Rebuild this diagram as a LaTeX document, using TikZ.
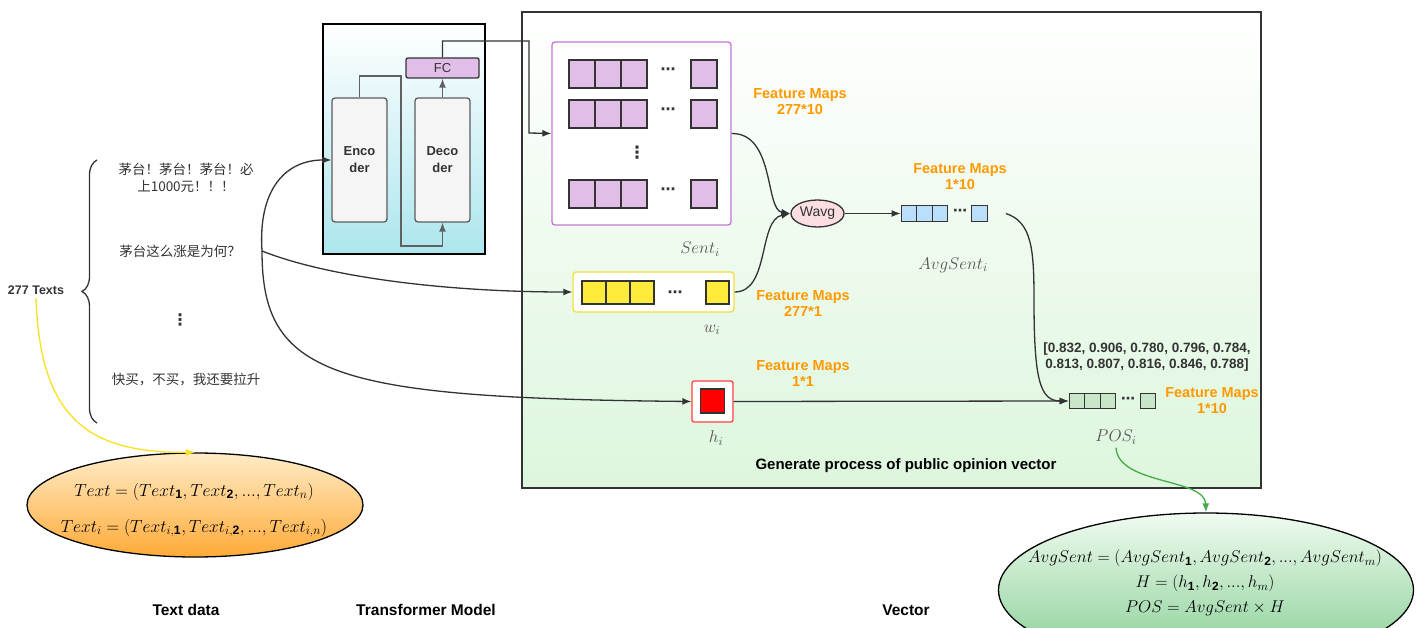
\RequirePackage{fix-cm}
\documentclass[tikz,border=0pt]{standalone}
\usepackage{fontspec}
\setmainfont{Liberation Sans}
\newfontfamily\cjk{Noto Sans CJK SC}
\newfontfamily\djv{DejaVu Sans}
\usepackage{amsmath}
\usepackage{tikz}
\usetikzlibrary{arrows.meta,shapes.geometric,decorations.pathreplacing}
\definecolor{fmorange}{RGB}{255,153,0}
\definecolor{purpcell}{RGB}{225,190,231}
\definecolor{purpline}{RGB}{196,120,212}
\definecolor{yelcell}{RGB}{255,235,59}
\definecolor{yelline}{RGB}{242,224,58}
\definecolor{bluecell}{RGB}{187,222,251}
\definecolor{greencell}{RGB}{200,230,201}
\definecolor{darkline}{RGB}{51,51,51}
\definecolor{greyline}{RGB}{97,97,97}
\definecolor{labgray}{RGB}{85,85,85}
\definecolor{wpink}{RGB}{250,222,226}
\definecolor{tfcyan}{RGB}{172,230,238}
\definecolor{panelgreen}{RGB}{221,246,221}
\definecolor{orangetop}{RGB}{255,236,200}
\definecolor{orangebot}{RGB}{255,170,55}
\definecolor{greentop}{RGB}{240,251,240}
\definecolor{greenbot}{RGB}{130,205,145}
\definecolor{yelarrow}{RGB}{250,225,30}
\definecolor{grnarrow}{RGB}{70,170,70}

\begin{document}
\begin{tikzpicture}[x=1pt,y=-1pt,
    arr/.style={-{Latex[length=9pt,width=7pt]}, line width=1.3pt, draw=darkline},
    garr/.style={-{Latex[length=9pt,width=7pt]}, line width=1.3pt, draw=greyline},
    cell/.style={draw=darkline, line width=1.3pt, inner sep=0pt},
    dots/.style={font=\djv\bfseries\fontsize{#1}{#1}\selectfont, text=darkline, inner sep=0pt},
    fmap/.style={text=fmorange, font=\bfseries\fontsize{14.5}{16}\selectfont, align=center},
    mlab/.style={text=labgray, font=\fontsize{17}{19}\selectfont},
    cn/.style={font=\cjk\fontsize{13.5}{17}\selectfont, align=center, text=darkline},
    title/.style={font=\bfseries\fontsize{15.5}{17}\selectfont},
    block/.style={draw=darkline!80, rounded corners=3pt, fill=black!4, line width=1.3pt,
      minimum width=55pt, minimum height=124pt, inner sep=0pt, align=center,
      font=\bfseries\fontsize{13}{17}\selectfont, text=darkline}]
    \useasboundingbox (0,0) rectangle (1416,628);

    % panels
    \draw[darkline, line width=1.2pt, top color=white, bottom color=panelgreen] (522,12) rectangle (1261,488);
    \draw[black, line width=2pt, top color=white, bottom color=tfcyan] (323,24) rectangle (485,254);

    % text data
    \node[font=\bfseries\fontsize{12.5}{14}\selectfont, text=darkline] (ntexts) at (36,290) {277 Texts};
    \draw[decorate, decoration={brace, amplitude=15pt}, darkline, line width=1.3pt] (97,423) -- (97,160);
    \node[cn] (t1) at (186,178) {茅台！茅台！茅台！必\\上1000元！！！};
    \node[cn] (t2) at (180,251) {茅台这么涨是为何？};
    \node[dots=16] (tdots) at (180,320) {⋮};
    \node[cn] (t3) at (186,380) {快买，不买，我还要拉升};
    \coordinate (fork) at (262,251);

    \node[ellipse, draw=black, line width=1.3pt, top color=orangetop, bottom color=orangebot,
      minimum width=336pt, minimum height=104pt, inner sep=0pt] (textell) at (195,505) {};
    \node[align=center, font=\fontsize{17.5}{36}\selectfont] (texteq) at (194,510)
      {$Text=(Text_{\mathbf{1}},Text_{\mathbf{2}},\mathbf{...},Text_{n})$\\
       $Text_{i}=(Text_{i,\mathbf{1}},Text_{i,\mathbf{2}},\mathbf{...},Text_{i,n})$};

    % transformer
    \node[block] (enc) at (359.5,160) {Enco\\der};
    \node[block] (dec) at (442.5,160) {Deco\\der};
    \node[draw=darkline, fill=purpcell, rounded corners=2pt, minimum width=73pt, minimum height=20pt,
      inner sep=0pt, line width=1.3pt, font=\fontsize{13}{15}\selectfont, text=darkline] (fc) at (442.5,68) {FC};

    % sentence features
    \node[draw=purpline, rounded corners=3pt, fill=white, line width=1.3pt,
      minimum width=179pt, minimum height=183pt] (sentbox) at (641.5,133.5) {};
    \foreach \r in {74,114,194} {
        \foreach \i in {0,1,2}
            \node[cell, fill=purpcell, minimum width=26pt, minimum height=28pt] at ({582+26*\i},\r) {};
        \node[cell, fill=purpcell, minimum width=26pt, minimum height=28pt] at (704,\r) {};
        \node[dots=15] at (668,\r-3) {⋯};
    }
    \node[dots=17] at (637,153) {⋮};
    \node[mlab] (sentlab) at (700,249) {$Sent_i$};
    \node[fmap] at (800,102) {Feature Maps\\277*10};

    % weights
    \node[draw=yelline, rounded corners=3pt, fill=white, line width=1.3pt,
      minimum width=161pt, minimum height=40pt] (wbox) at (653.5,292) {};
    \foreach \i in {0,1,2}
        \node[cell, fill=yelcell, minimum width=24pt, minimum height=23pt] at ({594+24*\i},292.5) {};
    \node[cell, fill=yelcell, minimum width=23pt, minimum height=23pt] at (717.5,292.5) {};
    \node[dots=15] at (675,294) {⋯};
    \node[mlab] at (712,330) {$w_i$};
    \node[fmap] at (803,304) {Feature Maps\\277*1};

    % h value
    \node[draw=red!75, rounded corners=2pt, fill=white, line width=1.3pt, minimum size=41pt] (hbox) at (712.5,401.5) {};
    \node[cell, fill=red, minimum size=24pt] at (712.5,401) {};
    \node[mlab] at (716,438) {$h_i$};
    \node[fmap] at (803,374) {Feature Maps\\1*1};

    % averaging
    \node[ellipse, draw=darkline, fill=wpink, line width=1.3pt, minimum width=53pt, minimum height=27pt,
      inner sep=0pt, font=\fontsize{14}{16}\selectfont, text=darkline] (wavg) at (817.5,213.5) {Wavg};
    \foreach \i/\n in {0/a1,1/a2,2/a3}
        \node[cell, fill=bluecell, minimum width=15.5pt, minimum height=15.5pt] (\n) at ({909+15.5*\i},213.5) {};
    \node[cell, fill=bluecell, minimum width=15.5pt, minimum height=15.5pt] (alast) at (979.5,213.5) {};
    \node[dots=14] at (960,212) {⋯};
    \node[mlab] at (953,265) {$AvgSent_i$};
    \node[fmap] at (960,177) {Feature Maps\\1*10};

    % public opinion vector
    \foreach \i/\n in {0/p1,1/p2,2/p3}
        \node[cell, fill=greencell, minimum width=15.5pt, minimum height=15.5pt] (\n) at ({1077+15.5*\i},401) {};
    \node[cell, fill=greencell, minimum width=15.5pt, minimum height=15.5pt] (plast) at (1148,401) {};
    \node[dots=14] at (1128,400) {⋯};
    \node[mlab] (poslab) at (1116,437) {$POS_i$};
    \node[fmap] at (1212,401) {Feature Maps\\1*10};
    \node[align=center, font=\bfseries\fontsize{13.5}{16}\selectfont, text=darkline] at (1147,357)
      {[0.832, 0.906, 0.780, 0.796, 0.784,\\ 0.813, 0.807, 0.816, 0.846, 0.788]};
    \node[font=\bfseries\fontsize{15}{17}\selectfont] at (906,466) {Generate process of public opinion vector};

    \node[ellipse, draw=black, line width=1.3pt, top color=greentop, bottom color=greenbot,
      minimum width=415pt, minimum height=154pt, inner sep=0pt] (posell) at (1206,590) {};
    \node[align=center, font=\fontsize{17}{25}\selectfont] (poseq) at (1205,583)
      {$AvgSent=(AvgSent_{\mathbf{1}},AvgSent_{\mathbf{2}},\mathbf{...},AvgSent_{m})$\\
       $H=(h_{\mathbf{1}},h_{\mathbf{2}},\mathbf{...},h_{m})$\\
       $POS=AvgSent\times H$};

    % section titles
    \node[title] at (186,610) {Text data};
    \node[title] at (426,610) {Transformer Model};
    \node[title] at (906,610) {Vector};

    % connectors
    \draw[arr] (fork) .. controls (258,190) and (285,160) .. (enc.west);
    \draw[arr] (fork) .. controls (330,278) and (450,292) .. (wbox.west);
    \draw[arr] (fork) .. controls (262,375) and (330,398) .. (hbox.west);
    \draw[garr] (enc.north) |- (401,76) -- (401,246) -| (dec.south);
    \draw[garr] (dec.north) -- (fc.south);
    \draw[arr] (fc.north) |- (529,41) -- (529,133) -- (sentbox.west);
    \draw[arr] (sentbox.east) .. controls (775,133) and (765,210) .. (wavg.west);
    \draw[arr] (wbox.east) .. controls (770,292) and (758,220) .. (wavg.west);
    \draw[arr] (wavg.east) -- (a1.west);
    \draw[arr] ([xshift=18pt]alast.east) .. controls (1032,222) and (1034,250) .. (1034,300)
        .. controls (1034,380) and (1040,401) .. (p1.west);
    \draw[arr] (hbox.east) -- (p1.west);
    \draw[-{Latex[length=9pt,width=7pt]}, line width=1.3pt, draw=yelarrow]
        (ntexts.south) .. controls (40,420) and (90,453) .. (textell.north);
    \draw[-{Latex[length=9pt,width=7pt]}, line width=1.3pt, draw=grnarrow]
        (poslab.south) .. controls (1118,485) and (1205,478) .. (posell.north);
\end{tikzpicture}
\end{document}
